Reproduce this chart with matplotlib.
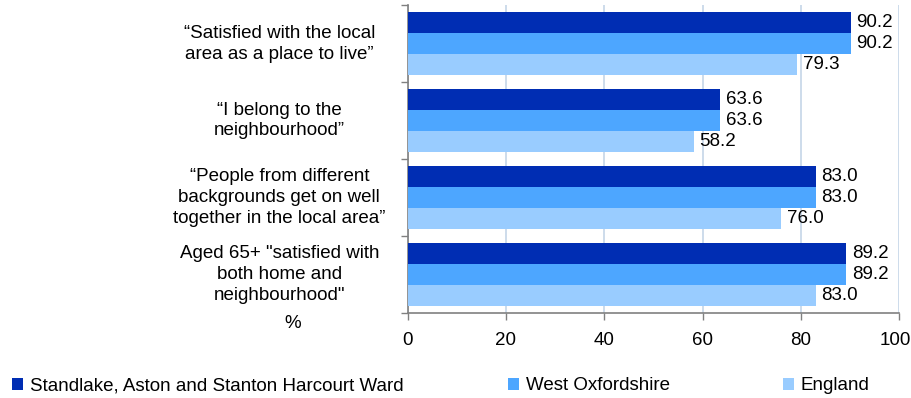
import matplotlib.pyplot as plt
import numpy as np
from matplotlib.transforms import ScaledTranslation

plt.rcParams['font.family'] = ['Liberation Sans', 'DejaVu Sans']

categories = [
    "\u201cSatisfied with the local\narea as a place to live\u201d",
    "\u201cI belong to the\nneighbourhood\u201d",
    "\u201cPeople from different\nbackgrounds get on well\ntogether in the local area\u201d",
    "Aged 65+ \"satisfied with\nboth home and\nneighbourhood\"",
]
series_names = ["Standlake, Aston and Stanton Harcourt Ward", "West Oxfordshire", "England"]
ward = [90.2, 63.6, 83.0, 89.2]
west_oxon = [90.2, 63.6, 83.0, 89.2]
england = [79.3, 58.2, 76.0, 83.0]
colors = ["#002db3", "#4da6ff", "#99ccff"]
xticks = [0, 20, 40, 60, 80, 100]

fig = plt.figure(figsize=(9.12, 3.98), dpi=100)
ax = fig.add_axes([0.447, 0.214, 0.539, 0.773])

y = np.arange(len(categories))
h = 0.273
bars = []
for i, (vals, c, name) in enumerate(zip([ward, west_oxon, england], colors, series_names)):
    b = ax.barh(y + (i - 1) * h, vals, height=h, color=c, label=name, zorder=3)
    ax.bar_label(b, fmt="%.1f", padding=4, fontsize=13.5, color="black")
    bars.append(b)

ax.set_ylim(len(categories) - 0.5, -0.5)
ax.set_xlim(0, 100)
ax.set_xticks(xticks)
ax.set_xticklabels([str(t) for t in xticks], fontsize=13.5)
ax.set_yticks(np.arange(len(categories) + 1) - 0.5)
ax.set_yticklabels([])
ax.tick_params(axis='y', length=5, color="#808080", width=1)
ax.tick_params(axis='x', length=5, color="#808080", width=1, pad=9)
ax.grid(axis='x', color="#c5d5e8", linewidth=1.2, zorder=0)
for s in ["top", "right"]:
    ax.spines[s].set_visible(False)
for s in ["left", "bottom"]:
    ax.spines[s].set_color("#808080")
    ax.spines[s].set_linewidth(1.2)

last = ax.get_xticklabels()[-1]
last.set_transform(last.get_transform() + ScaledTranslation(-4 / 100, 0, fig.dpi_scale_trans))

for yi, cat in zip(y, categories):
    ax.text(-0.261, yi, cat, transform=ax.get_yaxis_transform(), ha="center", va="center",
            fontsize=13.5, multialignment="center", linespacing=1.3)

fig.text(293 / 912, 1 - 323 / 398, "%", ha="center", va="center", fontsize=13.5)

leg_x = [12 / 912, 508 / 912, 783 / 912]
for b, name, lx in zip(bars, series_names, leg_x):
    fig.legend([b], [name], loc="center left", bbox_to_anchor=(lx, 1 - 386 / 398),
               frameon=False, fontsize=13.5, handlelength=0.6, handleheight=0.6,
               handletextpad=0.35, borderaxespad=0, borderpad=0)

fig.savefig("out.png", dpi=100)
